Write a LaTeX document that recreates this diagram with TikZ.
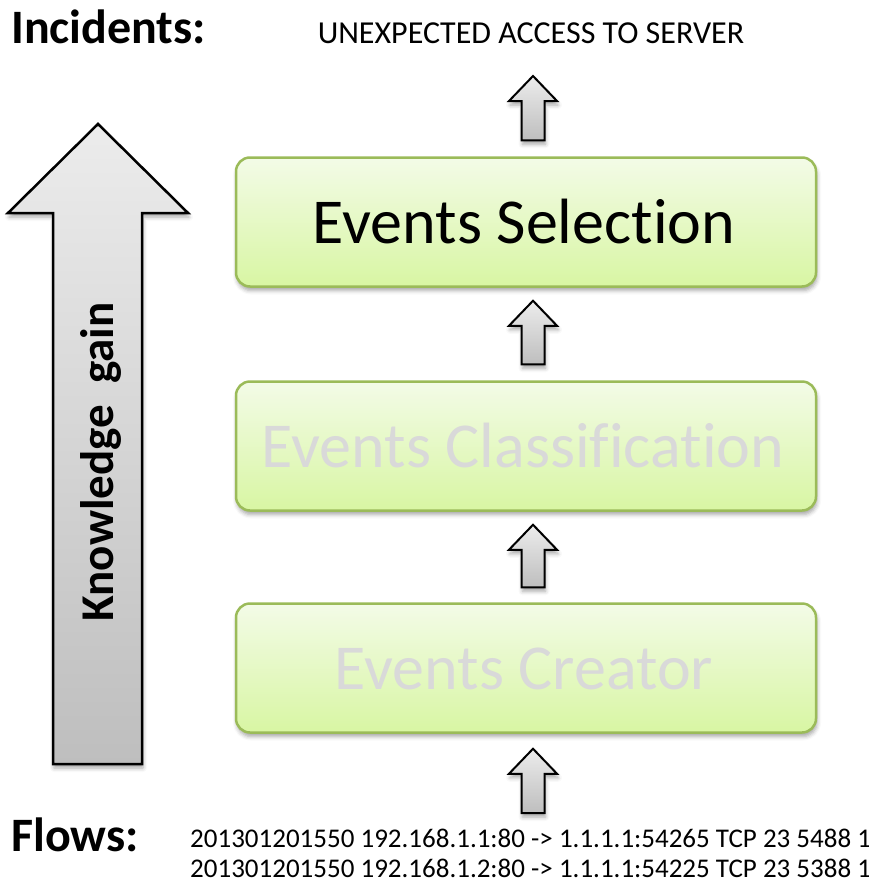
\documentclass[tikz,border=0pt]{standalone}
\usepackage{fontspec}
\setmainfont{Carlito}[Ligatures=NoCommon]
\usetikzlibrary{shadows.blur,calc}

\definecolor{boxline}{RGB}{155,187,89}
\definecolor{boxtop}{RGB}{243,251,231}
\definecolor{boxbot}{RGB}{216,246,163}
\definecolor{fadetext}{RGB}{217,217,217}
\definecolor{arrtop}{RGB}{236,236,236}
\definecolor{arrbot}{RGB}{190,190,190}

% upward block arrow from tail point #1 to tip point #2
\newcommand\blockup[2]{%
  \path[blockarrow] let \p1=#1, \p2=#2 in
    (\x1-11.5pt,\y1) -- (\x1-11.5pt,\y2-25pt) -- (\x1-24pt,\y2-25pt) --
    (\x2,\y2) -- (\x1+24pt,\y2-25pt) -- (\x1+11.5pt,\y2-25pt) --
    (\x1+11.5pt,\y1) -- cycle;}

\begin{document}
\begin{tikzpicture}[x=1pt,y=-1pt,
  softshadow/.style={blur shadow={shadow xshift=1pt,shadow yshift=-4pt,
      shadow blur radius=4pt,shadow opacity=35}},
  stagebox/.style={draw=boxline,line width=2.5pt,rounded corners=14pt,
      top color=boxtop,bottom color=boxbot,minimum width=580pt,
      minimum height=129pt,inner sep=0pt,softshadow},
  stagetext/.style={anchor=base,inner sep=0pt,
      font=\fontsize{64}{76}\selectfont},
  blockarrow/.style={draw=black,line width=2pt,line join=miter,
      top color=arrtop,bottom color=arrbot,softshadow},
  heading/.style={anchor=base west,inner sep=0pt,
      font=\bfseries\fontsize{48}{57}\selectfont},
  flowline/.style={anchor=base west,inner sep=0pt,
      font=\fontsize{27}{32}\selectfont}]
\useasboundingbox (0,0) rectangle (868,881);

% knowledge-gain arrow on the left
\path[draw=black,line width=2.5pt,line join=miter,
      top color=arrtop,bottom color=arrbot,softshadow]
  (53,764) -- (53,213) -- (8,213) -- (98,124) -- (188,213) --
  (142,213) -- (142,764) -- cycle;
\node[anchor=base,rotate=90,inner sep=0pt,
      font=\bfseries\fontsize{47}{56}\selectfont] (gain) at (113,462)
  {Knowledge\ \ gain};

% processing stages
\node[stagebox] (selection) at (526,222) {};
\node[stagebox] (classification) at (526,446) {};
\node[stagebox] (creator) at (526,668) {};

\node[stagetext] (selt) at ($(selection.center)+(-2,21.5)$) {Events Selection};
\node[stagetext,text=fadetext] (clat) at ($(classification.center)+(-3,21.5)$) {Events Classification};
\node[stagetext,text=fadetext] (cret) at ($(creator.center)+(-2,21.5)$) {Events Creator};

% headings and data
\node[heading] (incidents) at (11,43) {Incidents:};
\node[anchor=base,inner sep=0pt,font=\fontsize{32}{38}\selectfont]
  (incident) at (531,43) {UNEXPECTED ACCESS TO SERVER};
\node[heading] (flows) at (11,851) {Flows:};
\node[flowline] (flow1) at (190,847)
  {201301201550 192.168.1.1:80 -> 1.1.1.1:54265 TCP 23 5488 1};
\node[flowline] (flow2) at (190,877)
  {201301201550 192.168.1.2:80 -> 1.1.1.1:54225 TCP 23 5388 1};

% flow arrows between stages
\coordinate (t0) at (533,813);
\coordinate (h0) at ($(creator.south)+(7,15)$);
\coordinate (t1) at ($(creator.north)+(7,-15)$);
\coordinate (h1) at ($(classification.south)+(7,13)$);
\coordinate (t2) at ($(classification.north)+(7,-16)$);
\coordinate (h2) at ($(selection.south)+(7,13)$);
\coordinate (t3) at ($(selection.north)+(7,-16)$);
\coordinate (h3) at (533,76);
\blockup{(t0)}{(h0)}
\blockup{(t1)}{(h1)}
\blockup{(t2)}{(h2)}
\blockup{(t3)}{(h3)}
\end{tikzpicture}
\end{document}
